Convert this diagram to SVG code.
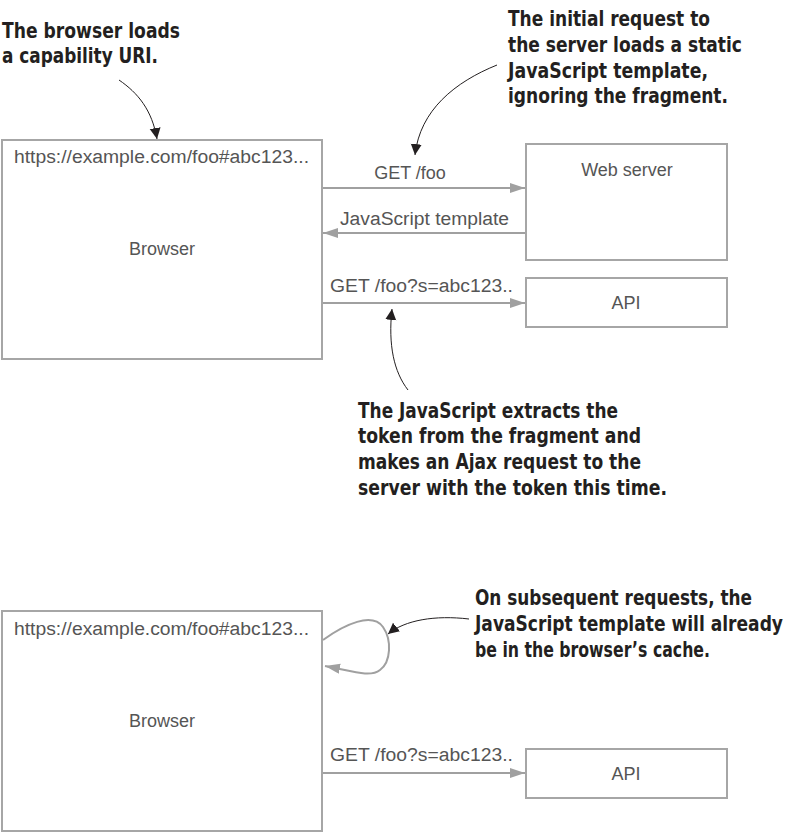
<svg xmlns="http://www.w3.org/2000/svg" width="794" height="833" viewBox="0 0 794 833">
<defs>
<style>
.box{fill:#fff;stroke:#a6a6a6;stroke-width:2}
.lbl{font-family:"Liberation Sans",Arial,sans-serif;font-size:18px;fill:#555}
.note{font-family:"Liberation Sans Narrow","DejaVu Sans Condensed","Liberation Sans",sans-serif;font-weight:bold;font-size:21px;fill:#231f20}
.conn{fill:none;stroke:#a0a0a0;stroke-width:2}
.ann{fill:none;stroke:#231f20;stroke-width:1}
</style>
<marker id="ga" markerUnits="userSpaceOnUse" markerWidth="16" markerHeight="12" refX="15" refY="5" orient="auto">
<path d="M0,0 L15,5 L0,10 Z" fill="#a0a0a0"/>
</marker>
<marker id="ba" markerUnits="userSpaceOnUse" markerWidth="14" markerHeight="12" refX="11" refY="5.5" orient="auto">
<path d="M0,0 L11,5.5 L0,11 Z" fill="#231f20"/>
</marker>
</defs>
<rect width="794" height="833" fill="#fff"/>

<g id="browser1">
<rect class="box" x="2" y="140" width="320" height="219"/>
<text class="lbl" x="14" y="163" textLength="295" lengthAdjust="spacingAndGlyphs">https://example.com/foo#abc123...</text>
<text class="lbl" x="162" y="255" text-anchor="middle">Browser</text>
</g>
<g id="webserver">
<rect class="box" x="526" y="144" width="201" height="116"/>
<text class="lbl" x="627" y="176" text-anchor="middle">Web server</text>
</g>
<g id="api1">
<rect class="box" x="526" y="278" width="201" height="49"/>
<text class="lbl" x="626" y="309" text-anchor="middle">API</text>
</g>

<g id="browser2">
<rect class="box" x="2" y="611" width="320" height="220"/>
<text class="lbl" x="14" y="635" textLength="295" lengthAdjust="spacingAndGlyphs">https://example.com/foo#abc123...</text>
<text class="lbl" x="162" y="727" text-anchor="middle">Browser</text>
</g>
<g id="api2">
<rect class="box" x="526" y="749" width="201" height="49"/>
<text class="lbl" x="626" y="780" text-anchor="middle">API</text>
</g>

<g id="connectors">
<line class="conn" x1="323" y1="188" x2="525" y2="188" marker-end="url(#ga)"/>
<text class="lbl" x="410" y="179" text-anchor="middle">GET /foo</text>
<line class="conn" x1="525" y1="233" x2="323" y2="233" marker-end="url(#ga)"/>
<text class="lbl" x="340" y="225" textLength="169" lengthAdjust="spacingAndGlyphs">JavaScript template</text>
<line class="conn" x1="323" y1="303" x2="525" y2="303" marker-end="url(#ga)"/>
<text class="lbl" x="330" y="292" textLength="183" lengthAdjust="spacingAndGlyphs">GET /foo?s=abc123..</text>
<path class="conn" d="M323,640 C345,624 372,612 383,627 C392,640 391,662 380,670 C370,678 352,671 325,666" marker-end="url(#ga)"/>
<line class="conn" x1="323" y1="773" x2="525" y2="773" marker-end="url(#ga)"/>
<text class="lbl" x="330" y="761" textLength="183" lengthAdjust="spacingAndGlyphs">GET /foo?s=abc123..</text>
</g>

<g id="note1">
<text class="note" x="2" y="38" textLength="178" lengthAdjust="spacingAndGlyphs">The browser loads</text>
<text class="note" x="2" y="63" textLength="156" lengthAdjust="spacingAndGlyphs">a capability URI.</text>
<path class="ann" d="M119,80 C138,93 152,110 157,139" marker-end="url(#ba)"/>
</g>
<g id="note2">
<text class="note" x="508" y="26" textLength="202" lengthAdjust="spacingAndGlyphs">The initial request to</text>
<text class="note" x="508" y="52" textLength="234" lengthAdjust="spacingAndGlyphs">the server loads a static</text>
<text class="note" x="508" y="78" textLength="200" lengthAdjust="spacingAndGlyphs">JavaScript template,</text>
<text class="note" x="508" y="103" textLength="220" lengthAdjust="spacingAndGlyphs">ignoring the fragment.</text>
<path class="ann" d="M497,65 C455,82 420,110 415,155" marker-end="url(#ba)"/>
</g>
<g id="note3">
<text class="note" x="358" y="418" textLength="260" lengthAdjust="spacingAndGlyphs">The JavaScript extracts the</text>
<text class="note" x="358" y="443" textLength="283" lengthAdjust="spacingAndGlyphs">token from the fragment and</text>
<text class="note" x="358" y="469" textLength="283" lengthAdjust="spacingAndGlyphs">makes an Ajax request to the</text>
<text class="note" x="358" y="495" textLength="309" lengthAdjust="spacingAndGlyphs">server with the token this time.</text>
<path class="ann" d="M408,390 C394,372 388,345 392,309" marker-end="url(#ba)"/>
</g>
<g id="note4">
<text class="note" x="475" y="605" textLength="277" lengthAdjust="spacingAndGlyphs">On subsequent requests, the</text>
<text class="note" x="783" y="631" text-anchor="end" textLength="308" lengthAdjust="spacingAndGlyphs">JavaScript template will already</text>
<text class="note" x="475" y="657" textLength="235" lengthAdjust="spacingAndGlyphs">be in the browser’s cache.</text>
<path class="ann" d="M469,619 C435,615 405,620 388,634" marker-end="url(#ba)"/>
</g>
</svg>
